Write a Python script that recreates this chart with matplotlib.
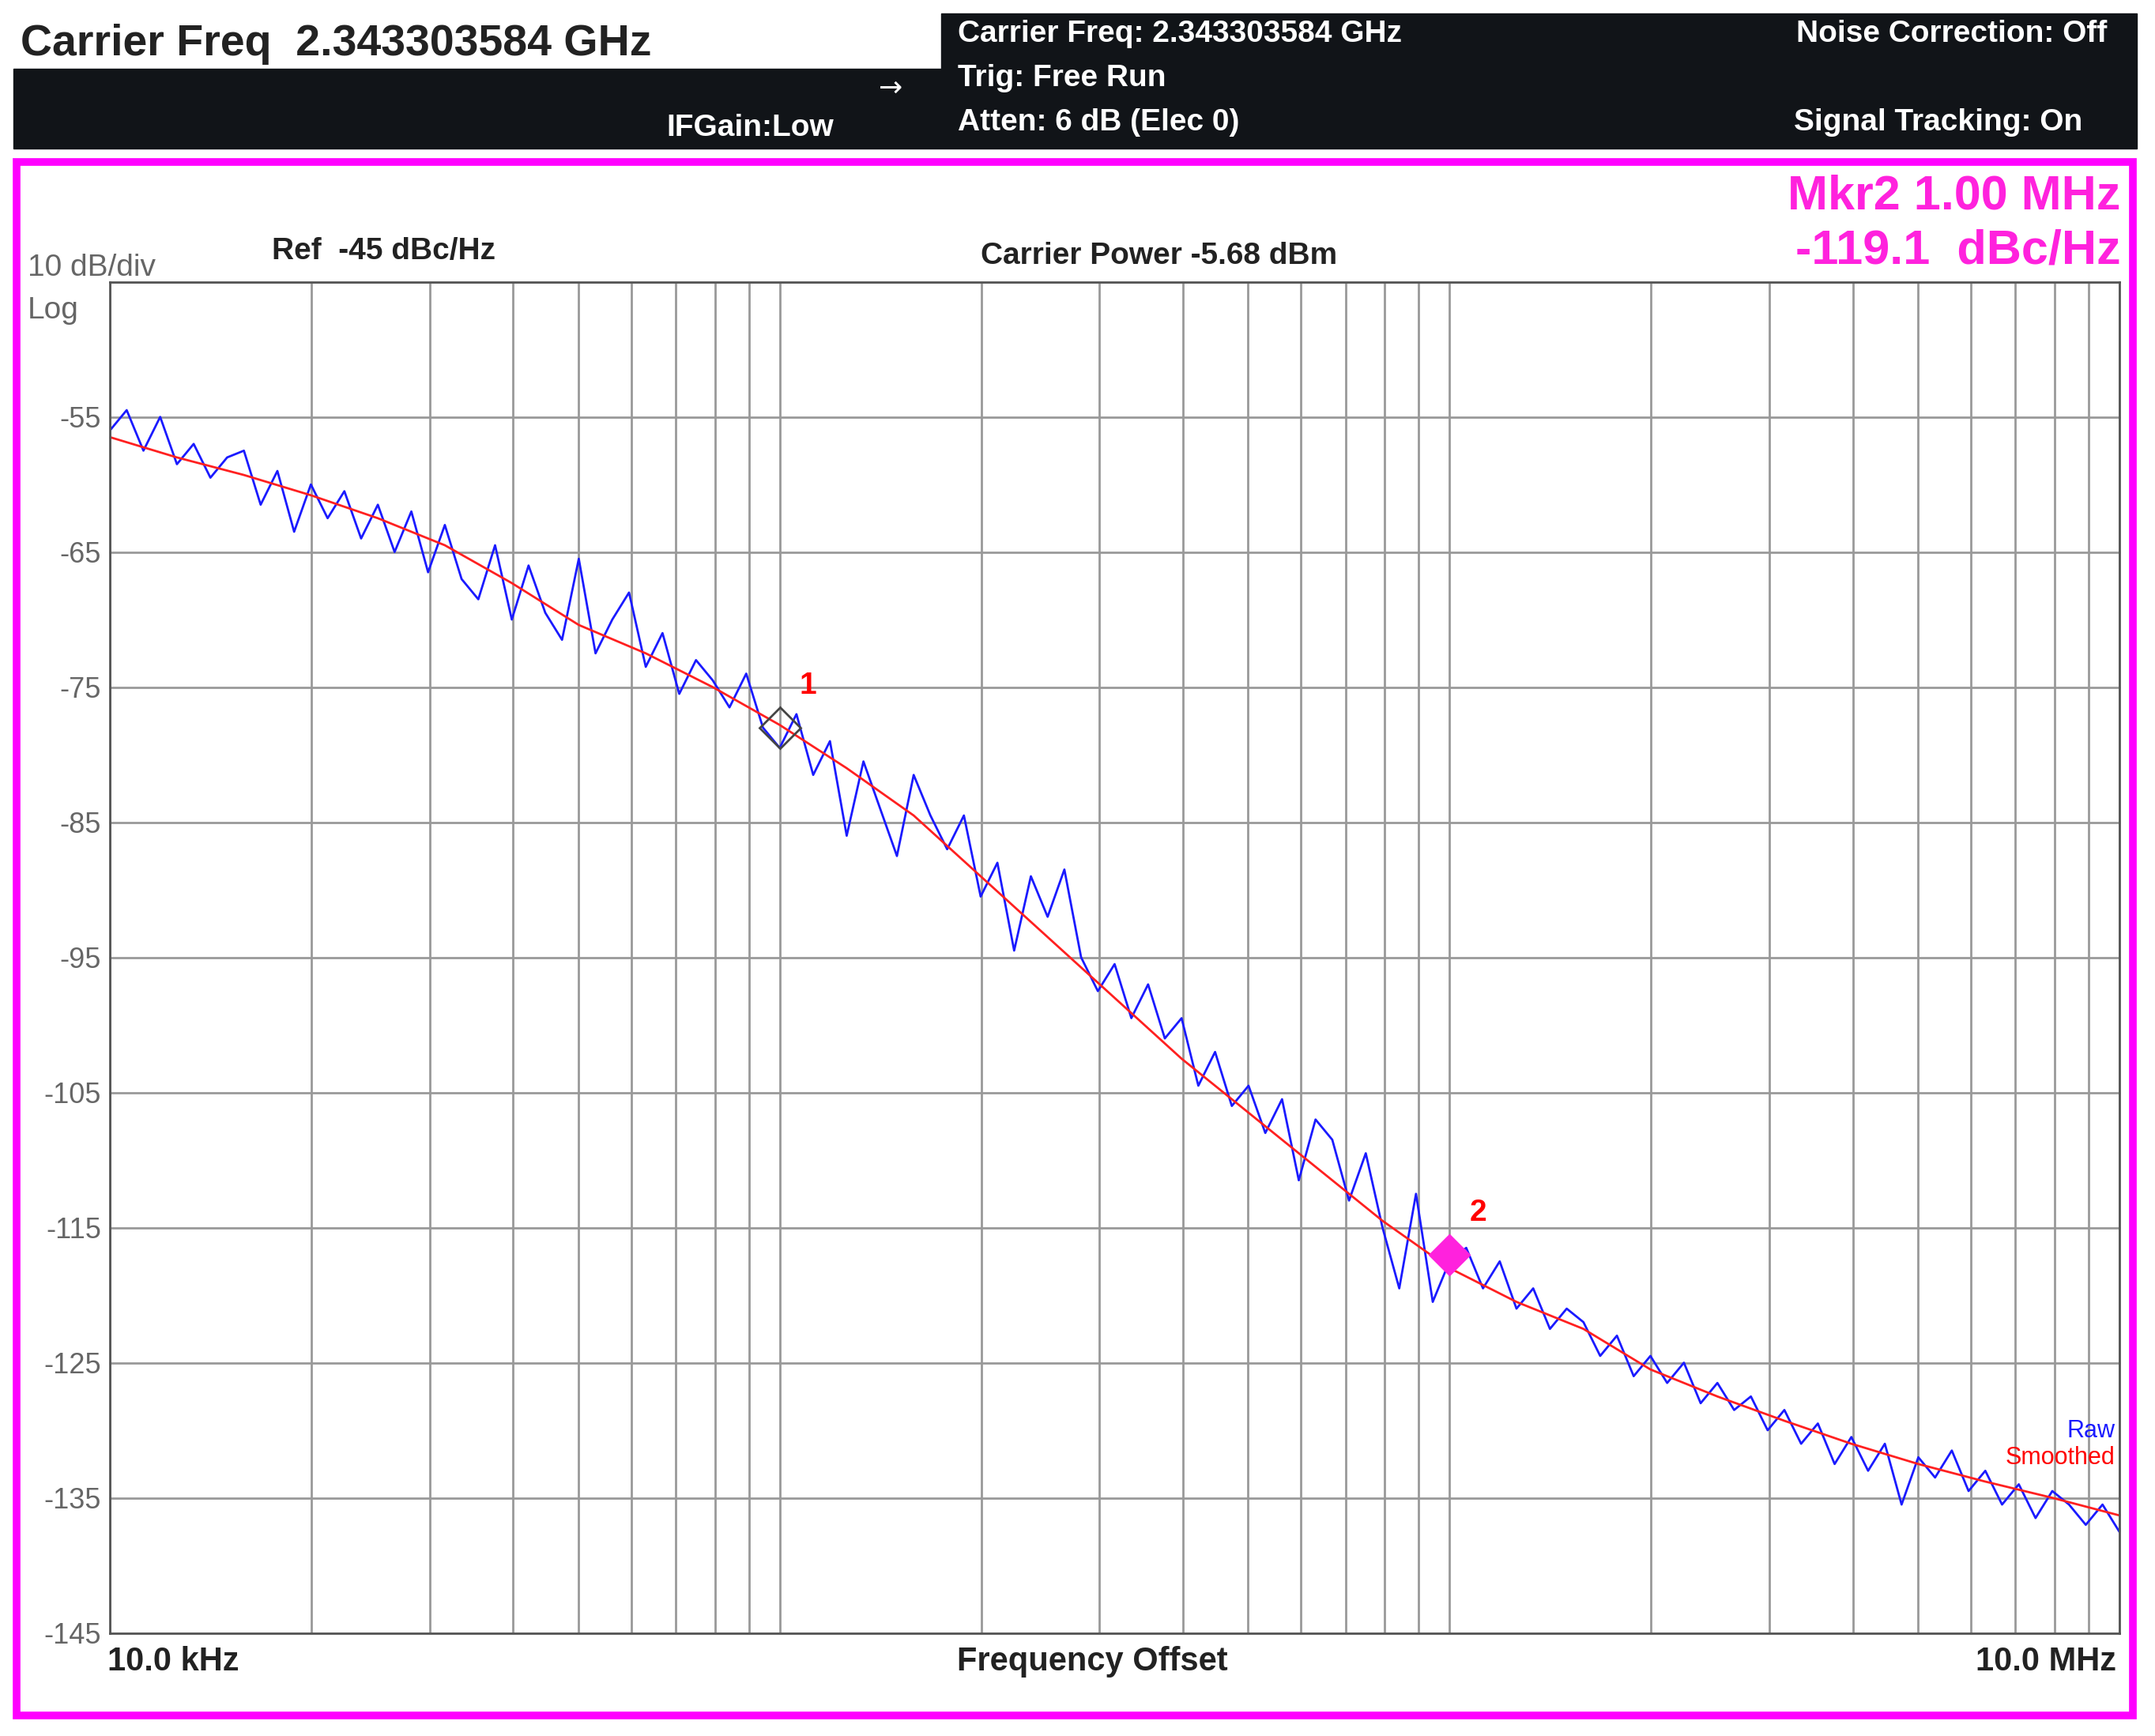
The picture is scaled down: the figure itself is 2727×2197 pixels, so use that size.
import numpy as np
import matplotlib
matplotlib.use("Agg")
import matplotlib.pyplot as plt
from matplotlib.patches import Rectangle
plt.rcParams['font.family'] = ['Liberation Sans', 'DejaVu Sans']

# smoothed trace, every 0.1 decade from 10 kHz to 10 MHz
smooth_db = [-56.5, -58, -59.3, -60.8, -62.5, -64.5, -67.3, -70.4, -72.5, -75, -77.8,
             -81, -84.5, -89, -93.5, -98, -102.5, -106.5, -110.5, -114.5, -118,
             -120.5, -122.5, -125.5, -127.5, -129.3, -131, -132.5, -133.8, -135, -136.3]
# raw trace, every 0.025 decade
raw_db = [-56.0, -54.5, -57.5, -55.0, -58.5, -57.0, -59.5, -58.0, -57.5, -61.5, -59.0, -63.5,
          -60.0, -62.5, -60.5, -64.0, -61.5, -65.0, -62.0, -66.5, -63.0, -67.0, -68.5, -64.5,
          -70.0, -66.0, -69.5, -71.5, -65.5, -72.5, -70.0, -68.0, -73.5, -71.0, -75.5, -73.0,
          -74.5, -76.5, -74.0, -78.0, -79.5, -77.0, -81.5, -79.0, -86.0, -80.5, -84.0, -87.5,
          -81.5, -84.5, -87.0, -84.5, -90.5, -88.0, -94.5, -89.0, -92.0, -88.5, -95.0, -97.5,
          -95.5, -99.5, -97.0, -101.0, -99.5, -104.5, -102.0, -106.0, -104.5, -108.0, -105.5,
          -111.5, -107.0, -108.5, -113.0, -109.5, -115.0, -119.5, -112.5, -120.5, -117.5,
          -116.5, -119.5, -117.5, -121.0, -119.5, -122.5, -121.0, -122.0, -124.5, -123.0,
          -126.0, -124.5, -126.5, -125.0, -128.0, -126.5, -128.5, -127.5, -130.0, -128.5,
          -131.0, -129.5, -132.5, -130.5, -133.0, -131.0, -135.5, -132.0, -133.5, -131.5,
          -134.5, -133.0, -135.5, -134.0, -136.5, -134.5, -135.5, -137.0, -135.5, -137.5]
yticks = [-55, -65, -75, -85, -95, -105, -115, -125, -135, -145]
mkr_freq = [1e5, 1e6]
mkr_db = [-78.0, -117.0]

f_s = np.logspace(4, 7, len(smooth_db))
f_r = np.logspace(4, 7, len(raw_db))

W, H = 2727, 2197
fig = plt.figure(figsize=(W/100, H/100), dpi=100)
fig.patch.set_facecolor("white")
def fx(x): return x/1568
def fy(y): return 1 - y/1263

# header
fig.patches.append(Rectangle((fx(10), fy(108)), fx(1545), fy(50)-fy(108), transform=fig.transFigure, color="#111418", zorder=0))
fig.patches.append(Rectangle((fx(685), fy(50)), fx(870), fy(10)-fy(50), transform=fig.transFigure, color="#111418", zorder=0))
fig.text(fx(15), fy(32), "Carrier Freq  2.343303584 GHz", fontsize=40, fontweight="bold", color="#222", va="center")
for x, y, s in [(697, 25, "Carrier Freq: 2.343303584 GHz"), (697, 57, "Trig: Free Run"),
                (697, 89, "Atten: 6 dB (Elec 0)"), (485, 93, "IFGain:Low")]:
    fig.text(fx(x), fy(y), s, fontsize=28, fontweight="bold", color="white", va="center")
for x, y, s in [(1533, 25, "Noise Correction: Off"), (1515, 89, "Signal Tracking: On")]:
    fig.text(fx(x), fy(y), s, fontsize=28, fontweight="bold", color="white", va="center", ha="right")
fig.text(fx(648), fy(64), "→", fontsize=26, color="white", va="center", ha="center", family="DejaVu Sans")

# magenta border
fig.patches.append(Rectangle((fx(12), fy(1248)), fx(1540), fy(118)-fy(1248), transform=fig.transFigure,
                             fill=False, ec="#ff00ff", lw=7, zorder=1))

ax = fig.add_axes([fx(80), fy(1188), fx(1462), fy(205)-fy(1188)])
ax.set_xscale("log")
ax.set_xlim(1e4, 1e7)
ax.set_ylim(-145, -45)
ax.set_yticks(yticks)
ax.set_yticklabels([str(v) for v in yticks], fontsize=26, color="#666")
ax.set_xticks([], minor=False)
xt = [m*10**e for e in (4, 5, 6) for m in range(1, 10)] + [1e7]
ax.set_xticks(xt, minor=True)
ax.tick_params(which="both", length=0, labelbottom=False)
ax.tick_params(axis="y", pad=8)
for x in xt:
    ax.axvline(x, color="#999", lw=2, zorder=0)
for y in yticks + [-45]:
    ax.axhline(y, color="#999", lw=2, zorder=0)
for s in ax.spines.values():
    s.set_color("#555"); s.set_linewidth(2)

ax.plot(f_r, raw_db, color="#1a1aff", lw=2)
ax.plot(f_s, smooth_db, color="#ff2020", lw=2)
ax.plot(mkr_freq[0], mkr_db[0], marker="D", ms=26, mfc="none", mec="#444", mew=2)
ax.plot(mkr_freq[1], mkr_db[1], marker="D", ms=26, mfc="#ff22dd", mec="#ff22dd")
ax.text(1.07e5, -75.5, "1", color="red", fontsize=28, fontweight="bold")
ax.text(1.07e6, -114.5, "2", color="red", fontsize=28, fontweight="bold")
ax.text(0.998, -130.5, "Raw", color="#1a1aff", fontsize=22, ha="right", transform=ax.get_yaxis_transform())
ax.text(0.998, -132.5, "Smoothed", color="red", fontsize=22, ha="right", transform=ax.get_yaxis_transform())

fig.text(fx(20), fy(195), "10 dB/div", fontsize=28, color="#666", va="center")
fig.text(fx(20), fy(226), "Log", fontsize=28, color="#666", va="center")
fig.text(fx(198), fy(183), "Ref  -45 dBc/Hz", fontsize=28, fontweight="bold", color="#222", va="center")
fig.text(fx(843), fy(186), "Carrier Power -5.68 dBm", fontsize=28, fontweight="bold", color="#222", va="center", ha="center")
fig.text(fx(1543), fy(143), "Mkr2 1.00 MHz", fontsize=44, fontweight="bold", color="#ff22dd", va="center", ha="right")
fig.text(fx(1543), fy(183), "-119.1  dBc/Hz", fontsize=44, fontweight="bold", color="#ff22dd", va="center", ha="right")
fig.text(fx(78), fy(1209), "10.0 kHz", fontsize=30, fontweight="bold", color="#222", va="center")
fig.text(fx(795), fy(1209), "Frequency Offset", fontsize=30, fontweight="bold", color="#222", va="center", ha="center")
fig.text(fx(1540), fy(1209), "10.0 MHz", fontsize=30, fontweight="bold", color="#222", va="center", ha="right")

fig.savefig("out.png", dpi=100)
